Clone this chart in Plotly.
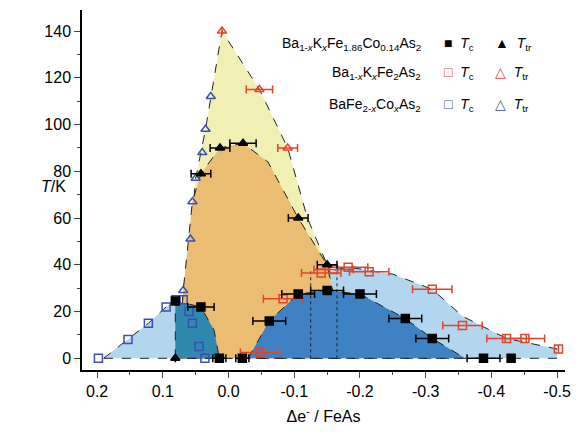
import plotly.graph_objects as go

# BaFe2-xCoxAs2
co_tc_x = [0.198, 0.153, 0.122, 0.095, 0.080, 0.069, 0.060, 0.055, 0.045, 0.036]
co_tc_y = [0, 8, 15, 22, 25, 25, 20, 15, 5, 0]
co_tr_x = [0.069, 0.058, 0.055, 0.050, 0.040, 0.035, 0.027]
co_tr_y = [29, 51, 67, 77, 88, 98, 112]

# Ba1-xKxFe2As2
k_tc_x = [-0.048, -0.083, -0.141, -0.160, -0.182, -0.214, -0.31, -0.356, -0.423, -0.451, -0.502]
k_tc_y = [2.5, 25.5, 36.5, 38, 39, 37, 29.5, 14, 8.5, 8.5, 4]
k_tc_err = [0.03, 0.03, 0.03, 0.03, 0.03, 0.03, 0.03, 0.03, 0.03, 0.03, 0]
k_tr_x = [0.010, -0.047, -0.090]
k_tr_y = [140, 115, 90]
k_tr_err = [0, 0.02, 0.015]

# Ba1-xKxFe1.86Co0.14As2
kc_tc_x = [0.081, 0.042, 0.014, -0.021, -0.062, -0.106, -0.150, -0.200, -0.269, -0.310, -0.388, -0.430]
kc_tc_y = [24.5, 22, 0, 0, 16, 27.5, 29, 27.5, 17, 8.5, 0, 0]
kc_tc_err = [0, 0.02, 0.01, 0.01, 0.025, 0.025, 0.025, 0.025, 0.025, 0.025, 0.025, 0]
kc_tr_x = [0.081, 0.042, 0.013, -0.022, -0.106, -0.150]
kc_tr_y = [0, 79, 90, 92, 60, 40]
kc_tr_err = [0, 0.015, 0.015, 0.02, 0.015, 0.015]

# phase boundaries (filled regions)
yellow_x = [0.075, 0.069, 0.058, 0.050, 0.035, 0.010, -0.047, -0.090, -0.120, -0.150, -0.165, -0.170, 0.075]
yellow_y = [0, 29, 51, 77, 98, 140, 115, 90, 60, 40, 20, 0, 0]
orange_x = [0.075, 0.069, 0.055, 0.042, 0.013, -0.022, -0.060, -0.106, -0.150, -0.165, -0.170, 0.075]
orange_y = [0, 29, 67, 79, 90, 92, 84, 60, 40, 20, 0, 0]
lb_left_x = [0.190, 0.153, 0.122, 0.095, 0.080, 0.060, 0.048, 0.036, 0.190]
lb_left_y = [0, 8, 15, 22, 25, 20, 8, 0, 0]
lb_right_x = [-0.040, -0.083, -0.141, -0.182, -0.250, -0.310, -0.356, -0.423, -0.500, -0.500, -0.040]
lb_right_y = [0, 25.5, 36.5, 39, 36, 29.5, 18, 8.5, 4, 0, 0]
db_left_x = [0.081, 0.081, 0.042, 0.022, 0.014, 0.081]
db_left_y = [0, 24.5, 22, 12, 0, 0]
db_right_x = [-0.030, -0.062, -0.106, -0.150, -0.200, -0.269, -0.310, -0.360, -0.030]
db_right_y = [0, 16, 27.5, 29, 27.5, 17, 8.5, 0, 0]

red = "#e0452c"
blue = "#3a4fb0"

fig = go.Figure()


def region(xs, ys, color):
    fig.add_trace(go.Scatter(x=xs, y=ys, mode="lines", fill="toself", fillcolor=color,
                             line=dict(color="#222", width=1, dash="dash"),
                             showlegend=False, hoverinfo="skip"))


region(lb_left_x, lb_left_y, "#b3d6ef")
region(lb_right_x, lb_right_y, "#b3d6ef")
region(yellow_x, yellow_y, "#f1efb3")
region(orange_x, orange_y, "#eabd72")
region(db_left_x, db_left_y, "#2f88ad")
region(db_right_x, db_right_y, "#3f82c4")

for vx in [-0.125, -0.165]:
    fig.add_trace(go.Scatter(x=[vx, vx], y=[0, 38], mode="lines",
                             line=dict(color="#222", width=1, dash="dot"),
                             showlegend=False, hoverinfo="skip"))


def pts(xs, ys, sym, color, err=None):
    fig.add_trace(go.Scatter(
        x=xs, y=ys, mode="markers", showlegend=False,
        marker=dict(symbol=sym, size=8, color=color, line=dict(color=color, width=1.5)),
        error_x=dict(type="data", array=err, color=color, thickness=1.5, width=4) if err else None))


pts(co_tc_x, co_tc_y, "square-open", blue)
pts(co_tr_x, co_tr_y, "triangle-up-open", blue)
pts(k_tc_x, k_tc_y, "square-open", red, k_tc_err)
pts(k_tr_x, k_tr_y, "triangle-up-open", red, k_tr_err)
pts(kc_tc_x, kc_tc_y, "square", "black", kc_tc_err)
pts(kc_tr_x, kc_tr_y, "triangle-up", "black", kc_tr_err)

# legend as text
leg = [
    ("Ba<sub>1-<i>x</i></sub>K<sub><i>x</i></sub>Fe<sub>1.86</sub>Co<sub>0.14</sub>As<sub>2</sub>", "■", "▲", "black", 0.936),
    ("Ba<sub>1-<i>x</i></sub>K<sub><i>x</i></sub>Fe<sub>2</sub>As<sub>2</sub>", "□", "△", red, 0.856),
    ("BaFe<sub>2-<i>x</i></sub>Co<sub><i>x</i></sub>As<sub>2</sub>", "□", "△", blue, 0.766),
]
for label, s1, s2, col, yy in leg:
    fig.add_annotation(x=0.706, y=yy, xref="paper", yref="paper", xanchor="right", showarrow=False,
                       text=label, font=dict(size=14, color="black"))
    fig.add_annotation(x=0.745, y=yy, xref="paper", yref="paper", xanchor="left", showarrow=False,
                       text=f"<span style='color:{col}'>{s1}</span>  <i>T</i><sub>c</sub>",
                       font=dict(size=14, color="black"))
    fig.add_annotation(x=0.85, y=yy, xref="paper", yref="paper", xanchor="left", showarrow=False,
                       text=f"<span style='color:{col}'>{s2}</span>  <i>T</i><sub>tr</sub>",
                       font=dict(size=14, color="black"))

fig.add_annotation(x=-0.09, y=0.51, xref="paper", yref="paper", showarrow=False,
                   text="<i>T</i>/K", font=dict(size=16, color="black"))

fig.update_layout(
    width=579, height=436,
    margin=dict(l=74, r=22, t=2, b=74),
    plot_bgcolor="white", paper_bgcolor="white",
    font=dict(family="Liberation Sans, Arial", size=16, color="black"),
    xaxis=dict(range=[0.223, -0.512], tickvals=[0.2, 0.1, 0.0, -0.1, -0.2, -0.3, -0.4, -0.5],
               ticktext=["0.2", "0.1", "0.0", "-0.1", "-0.2", "-0.3", "-0.4", "-0.5"],
               showline=True, linecolor="black", linewidth=1.5, ticks="outside", ticklen=6,
               showgrid=False, zeroline=False, automargin=False,
               minor=dict(ticks="outside", ticklen=3, dtick=0.05),
               title=dict(text="Δe<sup>-</sup> / FeAs", font=dict(size=16), standoff=12)),
    yaxis=dict(range=[-5, 149], tickvals=[0, 20, 40, 60, 80, 100, 120, 140],
               showline=True, linecolor="black", linewidth=1.5, ticks="outside", ticklen=6,
               showgrid=False, zeroline=False, automargin=False,
               minor=dict(ticks="outside", ticklen=3, dtick=10)),
)

fig.write_html("out.html")
